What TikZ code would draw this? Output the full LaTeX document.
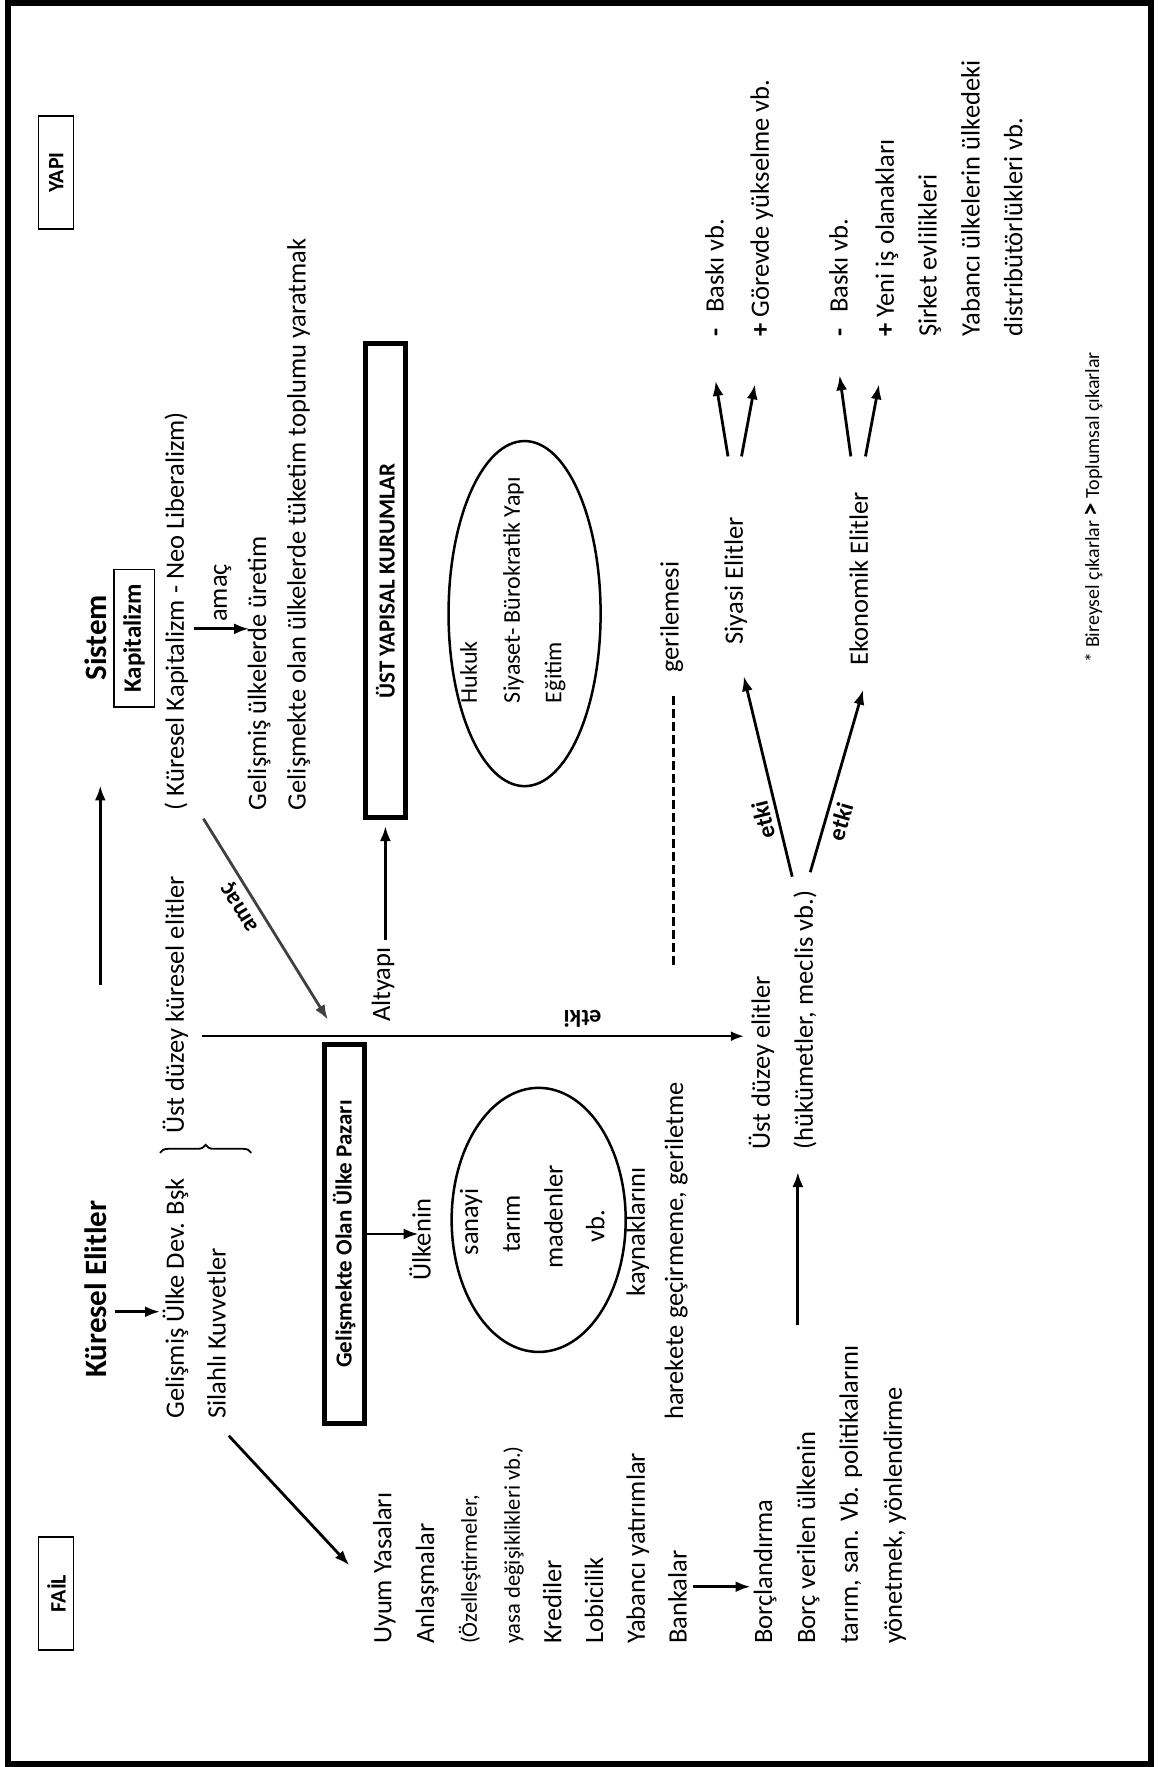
\documentclass[tikz,border=0pt]{standalone}
\usepackage{fontspec}
\setmainfont{Carlito}
\usetikzlibrary{arrows.meta,shapes.geometric,decorations.pathreplacing}

\tikzset{
  yazi/.style={rotate=90,anchor=west,inner sep=0pt,text height=0.7em,text depth=0.2em,font=\fontsize{26.5}{30}\selectfont},
  kucuk/.style={yazi,font=\fontsize{22.5}{26}\selectfont},
  orta/.style={yazi,anchor=center},
  baslik/.style={rotate=90,inner sep=0pt,font=\bfseries\fontsize{31}{36}\selectfont},
  ince/.style={rotate=90,draw,line width=1.2pt,inner sep=0pt,minimum width=113pt,minimum height=35pt,font=\bfseries\fontsize{22}{26}\selectfont},
  kalin/.style={rotate=90,draw,line width=5pt,inner sep=0pt,font=\bfseries\fontsize{23}{28}\selectfont},
  elips/.style={draw,ellipse,line width=2.5pt,inner sep=0pt},
  ok/.style={-{Latex[length=15pt,width=11pt]},line width=2.8pt},
  etiket/.style={inner sep=5pt,font=\bfseries\fontsize{24}{28}\selectfont}
}

\begin{document}
\begin{tikzpicture}[x=1.1266pt,y=-1.1266pt]
  \useasboundingbox (0,0) rectangle (1027,1568);
  \draw[line width=6pt] (7.5,2.5) rectangle (1021,1565);

  % yapi tarafi
  \node[ince] (yapi) at (50,153) {YAPI};
  \node[ince] (fail) at (50,1414) {FAİL};
  \node[baslik] (sis) at (85,566) {Sistem};
  \node[ince,minimum width=137pt,minimum height=40pt,font=\bfseries\fontsize{25}{30}\selectfont] (kap) at (119,566.5) {Kapitalizm};
  \node[yazi] (kkap) at (161,719) {( Küresel Kapitalizm - Neo Liberalizm)};
  \node[yazi] (amac) at (199,552) {amaç};
  \node[yazi] (gul) at (234,719) {Gelişmiş ülkelerde üretim};
  \node[yazi] (gol) at (269,719) {Gelişmekte olan ülkelerde tüketim toplumu yaratmak};
  \node[kalin,minimum width=474pt,minimum height=40pt] (ust) at (342,515.5) {ÜST YAPISAL KURUMLAR};
  \node[yazi] (alt) at (344,907) {Altyapı};
  \node[elips,minimum width=152pt,minimum height=345pt] (elh) at (465.5,544.5) {};
  \node[kucuk,font=\fontsize{24}{28}\selectfont] (huk) at (421,624) {Hukuk};
  \node[kucuk,font=\fontsize{24}{28}\selectfont] (siy) at (459,624) {Siyaset- Bürokratik Yapı};
  \node[kucuk,font=\fontsize{24}{28}\selectfont] (egi) at (496,624) {Eğitim};
  \node[yazi] (geri) at (600,597) {gerilemesi};
  \node[yazi] (siel) at (657,572) {Siyasi Elitler};
  \node[yazi] (ekel) at (768,591) {Ekonomik Elitler};
  \node[yazi] (bas1) at (640,299) {\textbf{-}\hspace{0.6em}Baskı vb.};
  \node[yazi] (gor) at (680,299) {\textbf{+} Görevde yükselme vb.};
  \node[yazi] (bas2) at (750,299) {\textbf{-}\hspace{0.6em}Baskı vb.};
  \node[yazi] (yeni) at (791,299) {\textbf{+} Yeni iş olanakları};
  \node[yazi] (sir) at (829,299) {Şirket evlilikleri};
  \node[yazi] (yab) at (867,299) {Yabancı ülkelerin ülkedeki};
  \node[yazi] (dis) at (905,299) {distribütörlükleri vb.};
  \node[kucuk,font=\fontsize{20}{24}\selectfont] (bir) at (973,588) {* Bireysel çıkarlar {\bfseries\fontsize{27}{27}\selectfont >} Toplumsal çıkarlar};
  \node[yazi] (ude) at (681,1020) {Üst düzey elitler};
  \node[yazi] (hme) at (719,1020) {(hükümetler, meclis vb.)};

  % fail tarafi
  \node[baslik] (kel) at (85,1144) {Küresel Elitler};
  \node[yazi] (ukel) at (161,1006) {Üst düzey küresel elitler};
  \node[yazi] (gud) at (161,1259) {Gelişmiş Ülke Dev. Bşk};
  \node[yazi] (sk) at (198,1259) {Silahlı Kuvvetler};
  \node[kalin,minimum width=378pt,minimum height=40pt] (pazar) at (305.5,1095) {Gelişmekte Olan Ülke Pazarı};
  \node[orta] (ulk) at (380,1100) {Ülkenin};
  \node[elips,minimum width=174pt,minimum height=264pt] (elk) at (478,1082.5) {};
  \node[orta] (san) at (422,1084) {sanayi};
  \node[orta] (tar) at (459,1086) {tarım};
  \node[orta] (mad) at (497,1080) {madenler};
  \node[orta] (vb) at (534,1088) {vb.};
  \node[orta] (kay) at (570,1093) {kaynaklarını};
  \node[yazi] (har) at (604,1260) {harekete geçirmeme, geriletme};
  \node[yazi] (uyum) at (345,1459) {Uyum Yasaları};
  \node[yazi] (anl) at (383,1459) {Anlaşmalar};
  \node[kucuk] (oze) at (421,1459) {(Özelleştirmeler,};
  \node[kucuk] (yasa) at (459,1459) {yasa değişiklikleri vb.)};
  \node[yazi] (kre) at (496,1459) {Krediler};
  \node[yazi] (lob) at (533,1459) {Lobicilik};
  \node[yazi] (yat) at (570,1459) {Yabancı yatırımlar};
  \node[yazi] (ban) at (607,1459) {Bankalar};
  \node[yazi] (bor) at (683,1459) {Borçlandırma};
  \node[yazi] (bve) at (721,1459) {Borç verilen ülkenin};
  \node[yazi] (tsv) at (759,1459) {tarım, san. Vb. politikalarını};
  \node[yazi] (yon) at (798,1459) {yönetmek, yönlendirme};

  % ok uclari
  \coordinate (s1) at (89,874);   \coordinate (s2) at (89,697);
  \coordinate (a1) at (172,558);  \coordinate (a2) at (221,558);
  \coordinate (d1) at (180.5,726.5); \coordinate (d2) at (291,905);
  \coordinate (k1) at (102,1164); \coordinate (k2) at (142,1164);
  \coordinate (u1) at (203,1274); \coordinate (u2) at (310,1389);
  \coordinate (e1) at (179,919.5); \coordinate (e2) at (660,919.5);
  \coordinate (t1) at (342,834);  \coordinate (t2) at (342,733);
  \coordinate (b1) at (615,1408); \coordinate (b2) at (666,1408);
  \coordinate (h1) at (708,1176); \coordinate (h2) at (708,1040);
  \coordinate (l1) at (703,778);  \coordinate (l2) at (660,600);
  \coordinate (r1) at (719,774);  \coordinate (r2) at (766,612);
  \coordinate (p1) at (646,405);  \coordinate (p2) at (635,338);
  \coordinate (p3) at (658,405);  \coordinate (p4) at (670,341);
  \coordinate (q1) at (755,405);  \coordinate (q2) at (745,333);
  \coordinate (q3) at (768,405);  \coordinate (q4) at (780,341);
  \coordinate (g1) at (598,856);  \coordinate (g2) at (598,615);

  \begin{scope}[every edge/.style={draw,ok}]
    \path (s1) edge (s2);
    \path (a1) edge (a2);
    \path (k1) edge (k2);
    \path (u1) edge (u2);
    \path (t1) edge (t2);
    \path (pazar.south) edge ++(46,0);
    \path (b1) edge (b2);
    \path (h1) edge (h2);
    \path (p1) edge (p2);
    \path (p3) edge (p4);
    \path (q1) edge (q2);
    \path (q3) edge (q4);
  \end{scope}

  \draw[ok,draw=black!75,fill=black!75] (d1) -- (d2)
    node[pos=0.4,rotate=121.6,anchor=south,etiket,text=black] {amaç};
  \draw[-{Latex[length=13pt,width=10pt]},line width=1.8pt] (e1) -- (e2);
  \node[etiket,rotate=180] (etk) at (517,904) {etki};
  \draw[ok] (l1) -- (l2) node[pos=0.3,rotate=103.6,anchor=south,etiket] {etki};
  \draw[ok] (r1) -- (r2) node[pos=0.3,rotate=73.7,anchor=north,etiket] {etki};
  \draw[line width=3pt,dash pattern=on 9pt off 4pt] (g1) -- (g2);
  \draw[line width=1.8pt,decorate,decoration={brace,amplitude=8pt}] (142,1023) -- (223,1023);
\end{tikzpicture}
\end{document}
